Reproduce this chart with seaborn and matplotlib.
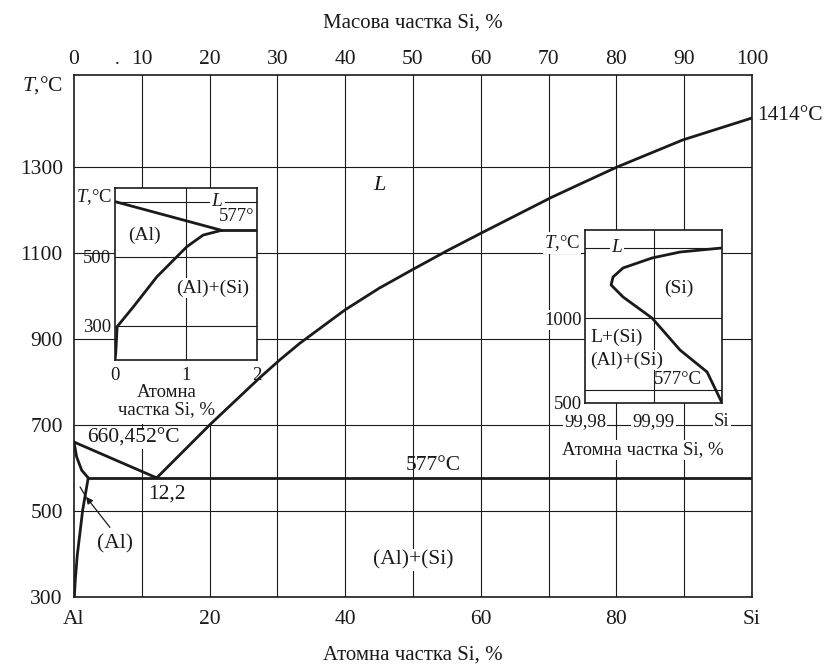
import matplotlib
matplotlib.use("Agg")
import matplotlib.pyplot as plt
from matplotlib.patches import Rectangle
import seaborn as sns

# ---- main diagram: atomic % Si vs temperature, deg C
liquidus_al_x = [0.0, 12.2]
liquidus_al_t = [660.452, 577.0]
liquidus_si_x = [12.2, 20.0, 27.4, 30.4, 33.3, 40.0, 45.0, 50.0, 55.0, 59.9,
                 70.5, 75.7, 80.1, 89.8, 100.0]
liquidus_si_t = [577, 700, 810, 852, 890, 968, 1018, 1062, 1105, 1145,
                 1230, 1268, 1300, 1363, 1414]
solidus_al_x = [0.0, 0.39, 1.13, 2.1]
solidus_al_t = [660.452, 626, 595, 577]
solvus_al_x = [2.1, 1.62, 1.28, 0.88, 0.49, 0.2, 0.05]
solvus_al_t = [577, 533, 502, 449, 398, 342, 300]
eutectic_x = [2.1, 100.0]
eutectic_t = [577.0, 577.0]

mass_ticks = list(range(0, 101, 10))
atom_ticks = [0, 20, 40, 60, 80, 100]
atom_labels = ['Al', '20', '40', '60', '80', 'Si']
temp_ticks = [300, 500, 700, 900, 1100, 1300]

# ---- inset 1: Al corner, 0-2 at.% Si
in1_liq_x = [0.0, 1.5]
in1_liq_t = [660.452, 577]
in1_eut_x = [1.5, 2.0]
in1_eut_t = [577, 577]
in1_solvus_x = [1.5, 1.24, 1.01, 0.59, 0.26, 0.03, 0.01, 0.0]
in1_solvus_t = [577, 563, 529, 442, 355, 297, 220, 200]
in1_melt_x = [0.0, 2.0]
in1_melt_t = [660.452, 660.452]
in1_xticks = [0, 1, 2]
in1_yticks = [300, 500]

# ---- inset 2: Si corner, retrograde solidus
in2_solidus_x = [100.0, 99.99387, 99.9898, 99.98555, 99.98409, 99.9838,
                 99.98555, 99.9898, 99.99387, 99.99781, 100.0]
in2_solidus_t = [1414, 1390, 1355, 1296, 1243, 1196, 1125, 1000, 812, 683, 500]
in2_melt_x = [99.98, 100.0]
in2_melt_t = [1414, 1414]
in2_eut_x = [99.98, 100.0]
in2_eut_t = [577, 577]
in2_xticks = [99.98, 99.99, 100.0]
in2_xlabels = ['99,98', '99,99', 'Si']
in2_yticks = [500, 1000]

sns.set_theme(style="white")
plt.rcParams['font.family'] = ['Liberation Serif', 'DejaVu Serif']
plt.rcParams['mathtext.fontset'] = 'custom'
plt.rcParams['mathtext.rm'] = 'Liberation Serif'
plt.rcParams['mathtext.it'] = 'Liberation Serif:italic'

INK = '#1a1a1a'
WHITE_BOX = dict(facecolor='white', edgecolor='none', pad=1.0)


def curve(ax, x, y, lw=2.0):
    sns.lineplot(x=x, y=y, ax=ax, sort=False, estimator=None, color=INK,
                 linewidth=lw, zorder=5, legend=False,
                 solid_joinstyle='round', solid_capstyle='round')


def frame(ax):
    for s in ax.spines.values():
        s.set_visible(True)
        s.set_color(INK)
        s.set_linewidth(1.2)
    ax.tick_params(length=0, colors=INK)
    ax.set_xlabel('')
    ax.set_ylabel('')


fig = plt.figure(figsize=(8.36, 6.66), dpi=100)
ax = fig.add_axes([0.0885, 0.1036, 0.811, 0.7838], zorder=1)
ax.set_xlim(0, 100)
ax.set_ylim(300, 1514)

for v in mass_ticks[1:-1]:
    ax.axvline(v, color=INK, lw=0.8, zorder=1)
for t in temp_ticks[1:]:
    ax.axhline(t, color=INK, lw=0.8, zorder=1)
# blank area under the left inset label
ax.add_patch(Rectangle((1.0, 703), 21.0, 148, facecolor='white',
                       edgecolor='none', zorder=1.5))

curve(ax, liquidus_al_x, liquidus_al_t)
curve(ax, liquidus_si_x, liquidus_si_t)
curve(ax, solidus_al_x, solidus_al_t)
curve(ax, solvus_al_x, solvus_al_t)
curve(ax, eutectic_x, eutectic_t)
frame(ax)

ax.set_xticks(atom_ticks)
ax.set_xticklabels(atom_labels, fontsize=15.5)
ax.set_yticks(temp_ticks)
ax.set_yticklabels([str(t) for t in temp_ticks], fontsize=15.5)
ax.tick_params(axis='x', pad=9)
ax.tick_params(axis='y', pad=8)

top = ax.secondary_xaxis('top')
top.set_xticks(mass_ticks)
top.set_xticklabels([str(m) for m in mass_ticks], fontsize=15.5)
top.tick_params(length=0, pad=4, colors=INK)
top.spines['top'].set_visible(False)

ax.text(-1.6, 1491, '$T$,°C', ha='right', va='center', fontsize=15.5,
        color=INK, clip_on=False)
ax.text(6.3, 1550, '.', ha='center', va='center', fontsize=14, color=INK,
        clip_on=False)
ax.text(100.7, 1419, '1414°C', ha='left', va='center', fontsize=15.5,
        color=INK, clip_on=False)
ax.text(45.1, 1258, '$L$', ha='center', va='center', fontsize=16, color=INK)
ax.text(8.7, 669, '660,452°C', ha='center', va='center', fontsize=15.5,
        color=INK, bbox=WHITE_BOX, zorder=3)
ax.text(13.7, 540, '12,2', ha='center', va='center', fontsize=15.5, color=INK)
ax.text(53.0, 605, '577°C', ha='center', va='center', fontsize=15.5,
        color=INK)
ax.text(50.0, 386, '(Al)+(Si)', ha='center', va='center', fontsize=15.5,
        color=INK, bbox=WHITE_BOX, zorder=3)
ax.text(6.0, 424, '(Al)', ha='center', va='center', fontsize=15.5, color=INK)
ax.annotate('', xy=(1.77, 533), xytext=(5.3, 462),
            arrowprops=dict(arrowstyle='-|>', color=INK, lw=0.9,
                            mutation_scale=10, shrinkA=0, shrinkB=0))
ax.plot([1.77, 0.9], [533, 556], color=INK, lw=0.9, zorder=4)

fig.text(0.494, 0.9655, 'Масова частка Si, %', ha='center', va='center',
         fontsize=15, color=INK)
fig.text(0.494, 0.0165, 'Атомна частка Si, %', ha='center', va='center',
         fontsize=15, color=INK)

# ---- inset 1
ax1 = fig.add_axes([0.1376, 0.4595, 0.1698, 0.2582], zorder=3,
                   facecolor='white')
ax1.set_xlim(0, 2)
ax1.set_ylim(200, 700)
ax1.axvline(1, color=INK, lw=0.8, zorder=1)
for t in in1_yticks:
    ax1.axhline(t, color=INK, lw=0.8, zorder=1)
sns.lineplot(x=in1_melt_x, y=in1_melt_t, ax=ax1, color=INK, linewidth=0.8,
             zorder=1, legend=False)
curve(ax1, in1_liq_x, in1_liq_t)
curve(ax1, in1_eut_x, in1_eut_t)
curve(ax1, in1_solvus_x, in1_solvus_t)
frame(ax1)
ax1.set_xticks(in1_xticks)
ax1.set_xticklabels([str(v) for v in in1_xticks], fontsize=13.5)
ax1.set_yticks(in1_yticks)
ax1.set_yticklabels([str(v) for v in in1_yticks], fontsize=13.5)
ax1.tick_params(axis='x', pad=5)
ax1.tick_params(axis='y', pad=3)
ax1.text(-0.02, 0.948, '$T$,°C', transform=ax1.transAxes, ha='right',
         va='center', fontsize=13.5, color=INK)
ax1.text(1.44, 660.452, '$L$', ha='center', va='center', fontsize=14,
         color=INK, bbox=WHITE_BOX, zorder=3)
ax1.text(1.72, 618, '577°', ha='center', va='center', fontsize=13.5,
         color=INK)
ax1.text(0.42, 563, '(Al)', ha='center', va='center', fontsize=14, color=INK)
ax1.text(1.38, 409, '(Al)+(Si)', ha='center', va='center', fontsize=14,
         color=INK, bbox=WHITE_BOX, zorder=3)
ax1.text(0.366, -0.24, 'Атомна\nчастка Si, %', transform=ax1.transAxes,
         ha='center', va='center', fontsize=13.5, color=INK,
         linespacing=1.0)

# ---- inset 2
ax2 = fig.add_axes([0.6998, 0.3949, 0.1639, 0.2598], zorder=3,
                   facecolor='white')
ax2.set_xlim(99.98, 100.0)
ax2.set_ylim(500, 1520)
ax2.axvline(99.99, color=INK, lw=0.8, zorder=1)
ax2.axhline(1000, color=INK, lw=0.8, zorder=1)
sns.lineplot(x=in2_melt_x, y=in2_melt_t, ax=ax2, color=INK, linewidth=0.8,
             zorder=1, legend=False)
sns.lineplot(x=in2_eut_x, y=in2_eut_t, ax=ax2, color=INK, linewidth=0.8,
             zorder=1, legend=False)
curve(ax2, in2_solidus_x, in2_solidus_t)
frame(ax2)
ax2.set_xticks(in2_xticks)
ax2.set_xticklabels(in2_xlabels, fontsize=13.5)
ax2.set_yticks(in2_yticks)
ax2.set_yticklabels([str(v) for v in in2_yticks], fontsize=13.5)
ax2.tick_params(axis='x', pad=7)
ax2.tick_params(axis='y', pad=2)
for lbl in ax2.get_xticklabels() + ax2.get_yticklabels():
    lbl.set_bbox(WHITE_BOX)
ax2.text(-0.036, 0.925, '$T$,°C', transform=ax2.transAxes, ha='right',
         va='center', fontsize=13.5, color=INK, bbox=WHITE_BOX)
ax2.text(99.98467, 1414, '$L$', ha='center', va='center', fontsize=14,
         color=INK, bbox=WHITE_BOX, zorder=3)
ax2.text(99.99372, 1178, '(Si)', ha='center', va='center', fontsize=14,
         color=INK)
ax2.text(99.98467, 889, 'L+(Si)', ha='center', va='center', fontsize=14,
         color=INK, bbox=WHITE_BOX, zorder=3)
ax2.text(99.98613, 754, '(Al)+(Si)', ha='center', va='center', fontsize=14,
         color=INK, bbox=WHITE_BOX, zorder=3)
ax2.text(99.99358, 640, '577°C', ha='center', va='center', fontsize=13.5,
         color=INK)
ax2.text(0.423, -0.27, 'Атомна частка Si, %', transform=ax2.transAxes,
         ha='center', va='center', fontsize=13.5, color=INK, bbox=WHITE_BOX)

fig.savefig('out.png', dpi=100, facecolor='white')
